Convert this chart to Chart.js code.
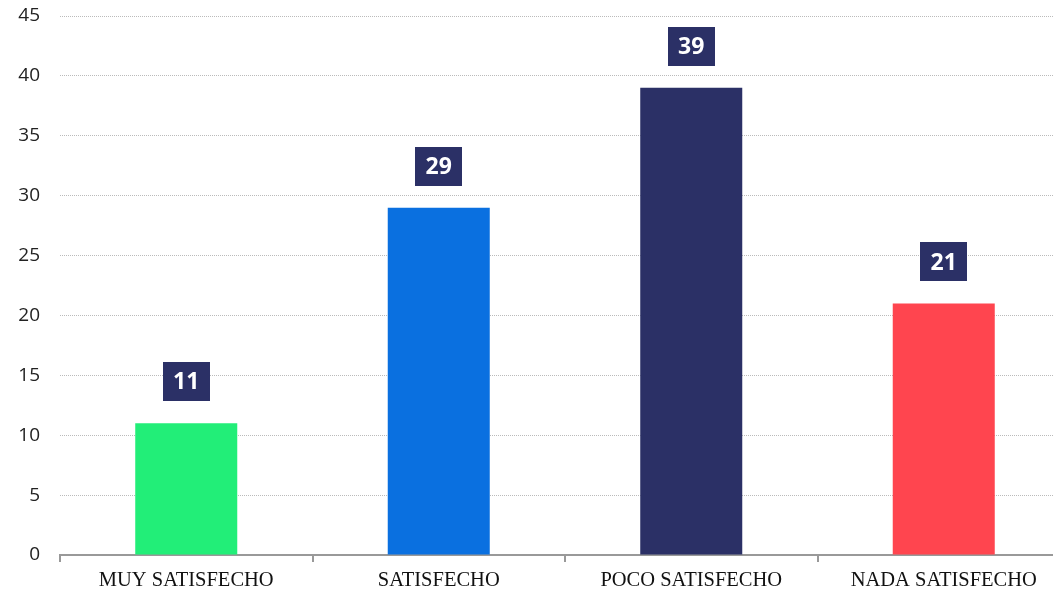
<!DOCTYPE html>
<html>
<head>
<meta charset="utf-8">
<script src="https://cdn.jsdelivr.net/npm/chart.js@4"></script>
<style>
html, body { margin: 0; padding: 0; background: #fff; overflow: hidden; }
#wrap { width: 1070px; height: 590px; }
</style>
</head>
<body>
<div id="wrap"><canvas id="myChart"></canvas></div>
<script>
'use strict';

var categories = ['MUY SATISFECHO', 'SATISFECHO', 'POCO SATISFECHO', 'NADA SATISFECHO']
var values = [11, 29, 39, 21]
var barColors = ['#22ee78', '#0a70e0', '#2b3066', '#ff454f']
var yTicks = [0, 5, 10, 15, 20, 25, 30, 35, 40, 45]

// boxes with the value above each bar
var valueBoxes = {
	id: 'valueBoxes',
	afterDatasetsDraw(chart) {
		var ctx = chart.ctx
		var meta = chart.getDatasetMeta(0)
		ctx.save()
		ctx.font = 'bold 23px "Open Sans"'
		ctx.textAlign = 'center'
		ctx.textBaseline = 'middle'
		meta.data.forEach((bar, i) => {
			var w = 47, h = 39
			var bottom = bar.y - 22
			ctx.fillStyle = '#2b3066'
			ctx.fillRect(Math.round(bar.x - w / 2), Math.round(bottom - h), w, h)
			ctx.fillStyle = '#fff'
			ctx.fillText(String(values[i]), bar.x, bottom - h / 2 + 1)
		})
		ctx.restore()
	}
}

var chart = new Chart(document.getElementById('myChart').getContext('2d'), {
	type: 'bar',
	data: {
		labels: categories,
		datasets: [{
			data: values,
			backgroundColor: barColors,
			categoryPercentage: 1,
			barPercentage: 0.404
		}]
	},
	options: {
		responsive: true,
		maintainAspectRatio: false,
		animation: false,
		layout: { padding: { top: 16, right: 0, left: 0, bottom: 0 } },
		plugins: { legend: { display: false }, tooltip: { enabled: false } },
		scales: {
			x: {
				afterFit(scale) { scale.height = 35 },
				grid: { drawOnChartArea: false, color: '#999', lineWidth: 2, tickLength: 7, offset: true },
				border: { color: '#999', width: 2 },
				ticks: { color: '#111', font: { family: '"Liberation Serif"', size: 20.5 }, padding: 6 }
			},
			y: {
				min: 0, max: 45,
				afterFit(scale) {
					scale.width = 60
					scale.paddingTop = 0
					scale.paddingBottom = 0
				},
				afterBuildTicks(scale) { scale.ticks = yTicks.map((v) => ({ value: v })) },
				grid: { color: '#bbb', lineWidth: 1, drawTicks: false },
				border: { display: false, dash: [1, 1] },
				ticks: { color: '#222', font: { family: '"Open Sans"', size: 19 }, padding: 20 }
			}
		}
	},
	plugins: [valueBoxes]
})
</script>
</body>
</html>
